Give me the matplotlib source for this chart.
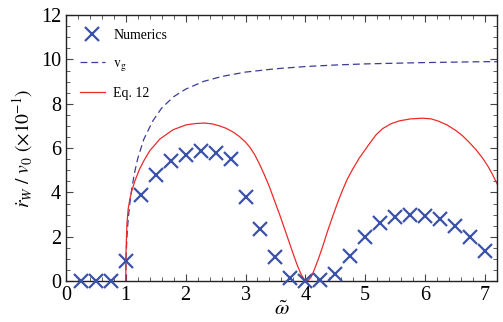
import matplotlib
matplotlib.use("Agg")
import matplotlib.pyplot as plt
from matplotlib.ticker import MultipleLocator

plt.rcParams['font.family'] = ['Liberation Serif', 'DejaVu Serif']
plt.rcParams['mathtext.fontset'] = 'stix'

# points numériques
omega_num = [0.25, 0.5, 0.75, 1.0, 1.25, 1.5, 1.75, 2.0, 2.25, 2.5, 2.75, 3.0,
             3.25, 3.5, 3.75, 4.0, 4.25, 4.5, 4.75, 5.0, 5.25, 5.5, 5.75, 6.0,
             6.25, 6.5, 6.75, 7.0]
rw_num = [0.0, 0.0, 0.0, 0.9, 3.9, 4.8, 5.4, 5.7, 5.85, 5.8, 5.5, 3.8,
          2.37, 1.1, 0.12, 0.02, 0.03, 0.3, 1.13, 2.0, 2.6, 2.9, 2.97, 2.93,
          2.78, 2.49, 2.0, 1.35]

# vitesse de groupe
omega_vg = [1.0, 1.005, 1.01, 1.02, 1.035, 1.05, 1.075, 1.1, 1.15, 1.2, 1.3, 1.45,
            1.6, 1.8, 2.0, 2.3, 2.6, 3.0, 3.5, 4.0, 4.5, 5.0, 5.5, 6.0, 6.5, 7.0, 7.25]
vg = [0.0, 1.0, 1.4, 2.0, 2.6, 3.05, 3.65, 4.17, 4.93, 5.53, 6.39, 7.22,
      7.81, 8.32, 8.66, 9.01, 9.23, 9.43, 9.58, 9.68, 9.75, 9.80, 9.83, 9.86,
      9.88, 9.90, 9.90]

# Eq. 12
omega_eq = [1.0, 1.002, 1.005, 1.01, 1.02, 1.04, 1.067, 1.1, 1.15, 1.23, 1.3, 1.4,
            1.57, 1.79, 2.01, 2.17, 2.32, 2.45, 2.57, 2.68, 2.79, 2.9, 3.0, 3.07,
            3.15, 3.23, 3.31, 3.4, 3.48, 3.57, 3.65, 3.73, 3.8, 3.87, 3.93, 3.98,
            4.04, 4.1, 4.15, 4.22, 4.29, 4.37, 4.46, 4.54, 4.62, 4.7, 4.79, 4.9,
            5.07, 5.18, 5.29, 5.43, 5.57, 5.76, 5.96, 6.1, 6.23, 6.37, 6.51, 6.62,
            6.73, 6.85, 6.96, 7.05, 7.12, 7.2, 7.25]
eq12 = [0.0, 0.8, 1.3, 1.85, 2.6, 3.25, 3.68, 4.07, 4.5, 5.05, 5.42, 5.88,
        6.41, 6.83, 7.05, 7.11, 7.13, 7.09, 7.0, 6.89, 6.73, 6.52, 6.27, 6.05,
        5.72, 5.3, 4.83, 4.25, 3.66, 3.0, 2.38, 1.75, 1.2, 0.68, 0.3, 0.08,
        0.0, 0.2, 0.52, 1.02, 1.57, 2.25, 2.95, 3.55, 4.1, 4.6, 5.05, 5.55,
        6.2, 6.6, 6.88, 7.1, 7.23, 7.32, 7.35, 7.32, 7.21, 7.04, 6.8, 6.57,
        6.28, 5.93, 5.55, 5.18, 4.84, 4.4, 4.15]

fig = plt.figure(figsize=(5.03, 3.22), dpi=100)
ax = fig.add_axes([0.131, 0.127, 0.857, 0.826])

ax.plot(omega_num, rw_num, linestyle='none', marker='x', ms=9.5, mew=1.6,
        color='#3a52aa', label='Numerics', clip_on=False, zorder=3)
ax.plot(omega_vg, vg, linestyle=(0, (5.5, 3.2)), lw=0.9, color='#3c3c96',
        label=r'$\mathrm{v_g}$')
ax.plot(omega_eq, eq12, lw=0.9, color='#ee2a2a', label='Eq. 12')

ax.set_xlim(0, 7.2)
ax.set_ylim(0, 12)
ax.xaxis.set_major_locator(MultipleLocator(1))
ax.xaxis.set_minor_locator(MultipleLocator(0.2))
ax.yaxis.set_major_locator(MultipleLocator(2))
ax.yaxis.set_minor_locator(MultipleLocator(0.5))
ax.tick_params(which='both', direction='in', top=True, right=True,
               labelsize=14.5, color='#444444')
ax.tick_params(which='major', length=5, width=0.8)
ax.tick_params(which='minor', length=3, width=0.6)
for s in ax.spines.values():
    s.set_linewidth(1.0)
    s.set_color('#222222')

ax.set_xlabel(r'$\tilde{\omega}$', fontsize=15, labelpad=-3)
ax.set_ylabel(r'$\dot{r}_W\ /\ v_0\ (\times 10^{-1})$', fontsize=14, labelpad=4)

ax.legend(loc='upper left', frameon=False, fontsize=10, handlelength=1.8,
          labelspacing=1.05, borderaxespad=0.6, handletextpad=0.6)

fig.savefig('out.png', dpi=100)
